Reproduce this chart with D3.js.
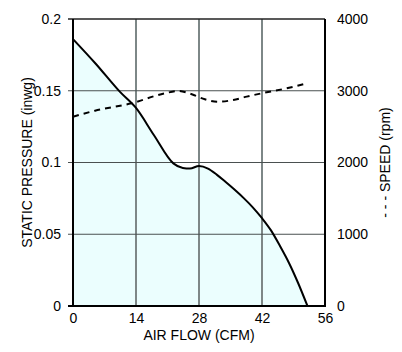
<!DOCTYPE html>
<html><head><meta charset="utf-8">
<script src="https://cdn.jsdelivr.net/npm/d3@7"></script>
<style>
body{margin:0;background:#fff;}
text{font-family:"Liberation Sans",Arial,sans-serif;font-size:14px;fill:#000;}
</style></head>
<body><svg id="c" width="402" height="352"></svg>
<script>
// Data
const pressureFlow = [0, 5, 10.5, 14, 18, 22.3, 24.4, 26, 28, 30, 32, 34, 36, 38, 40, 42, 44, 46, 48, 50, 52.1];
const pressureVals = [0.186, 0.169, 0.149, 0.138, 0.119, 0.0994, 0.0962, 0.0958, 0.0976, 0.0958, 0.0914, 0.0862, 0.0808, 0.0750, 0.0686, 0.0612, 0.0527, 0.0418, 0.0300, 0.0162, 0];
const speedFlow = [0, 4.9, 13, 20.4, 23.4, 26.4, 29.3, 32.3, 35.6, 38.6, 42, 47.5, 52];
const speedVals = [2638, 2722, 2825, 2964, 2997, 2951, 2881, 2847, 2871, 2918, 2965, 3034, 3104];
const xTicks = [0, 14, 28, 42, 56];
const yTicks = [0, 0.05, 0.1, 0.15, 0.2];
const yTickLabels = ["0", "0.05", "0.1", "0.15", "0.2"];
const y2Ticks = [0, 1000, 2000, 3000, 4000];

const L = 73, R = 325, T = 19, B = 306;
const svg = d3.select("#c");
const x = d3.scaleLinear().domain([0, 56]).range([L, R]);
const y = d3.scaleLinear().domain([0, 0.2]).range([B, T]);
const y2 = d3.scaleLinear().domain([0, 4000]).range([B, T]);

const pData = pressureFlow.map((f, i) => ({f, v: pressureVals[i]}));
const sData = speedFlow.map((f, i) => ({f, v: speedVals[i]}));

// fill
svg.append("path").datum(pData)
  .attr("d", d3.area().x(d => x(d.f)).y0(y(0)).y1(d => y(d.v)).curve(d3.curveMonotoneX))
  .attr("fill", "#ebfefe");

// vertical grid
svg.append("g").selectAll("line").data(xTicks.slice(1, -1)).join("line")
  .attr("x1", d => x(d)).attr("x2", d => x(d)).attr("y1", T).attr("y2", B)
  .attr("stroke", "#7d8787").attr("stroke-width", 2);

// horizontal grid
svg.append("g").selectAll("line").data(yTicks.slice(1, -1)).join("line")
  .attr("x1", L - 5).attr("x2", R).attr("y1", d => y(d)).attr("y2", d => y(d))
  .attr("stroke", "#4a5050").attr("stroke-width", 1.2);

// top line
svg.append("line").attr("x1", L - 5).attr("x2", R).attr("y1", T).attr("y2", T)
  .attr("stroke", "#222").attr("stroke-width", 1.5);

// curves
svg.append("path").datum(sData)
  .attr("d", d3.line().x(d => x(d.f)).y(d => y2(d.v)).curve(d3.curveMonotoneX))
  .attr("fill", "none").attr("stroke", "#000").attr("stroke-width", 2)
  .attr("stroke-dasharray", "6,5");
svg.append("path").datum(pData)
  .attr("d", d3.line().x(d => x(d.f)).y(d => y(d.v)).curve(d3.curveMonotoneX))
  .attr("fill", "none").attr("stroke", "#000").attr("stroke-width", 2);

// frame
svg.append("line").attr("x1", L).attr("x2", L).attr("y1", T).attr("y2", B + 1).attr("stroke", "#000").attr("stroke-width", 2);
svg.append("line").attr("x1", R).attr("x2", R).attr("y1", T).attr("y2", B + 1).attr("stroke", "#000").attr("stroke-width", 2);
svg.append("line").attr("x1", L - 5).attr("x2", R + 1).attr("y1", B).attr("y2", B).attr("stroke", "#000").attr("stroke-width", 2);

// axes (labels)
const ax = svg.append("g").attr("transform", `translate(${L},0)`)
  .call(d3.axisLeft(y).tickValues(yTicks).tickFormat((d, i) => yTickLabels[i]).tickSize(0).tickPadding(12));
ax.select(".domain").remove();
const ax2 = svg.append("g").attr("transform", `translate(${R},0)`)
  .call(d3.axisRight(y2).tickValues(y2Ticks).tickFormat(d3.format("d")).tickSize(0).tickPadding(12));
ax2.select(".domain").remove();
const bx = svg.append("g").attr("transform", `translate(0,${B})`)
  .call(d3.axisBottom(x).tickValues(xTicks).tickSize(0).tickPadding(7.5));
bx.select(".domain").remove();
svg.selectAll(".tick text").attr("font-family", "Liberation Sans, Arial, sans-serif").attr("font-size", 14).attr("fill", "#000");

// titles
svg.append("text").attr("x", (L + R) / 2).attr("y", 339.5).attr("text-anchor", "middle").text("AIR FLOW (CFM)");
svg.append("text").attr("transform", `translate(32,${(T + B) / 2}) rotate(-90)`).attr("text-anchor", "middle").text("STATIC PRESSURE (inwg)");
svg.append("text").attr("transform", `translate(390,${(T + B) / 2}) rotate(-90)`).attr("text-anchor", "middle").text("- - - SPEED (rpm)");
</script></body></html>
